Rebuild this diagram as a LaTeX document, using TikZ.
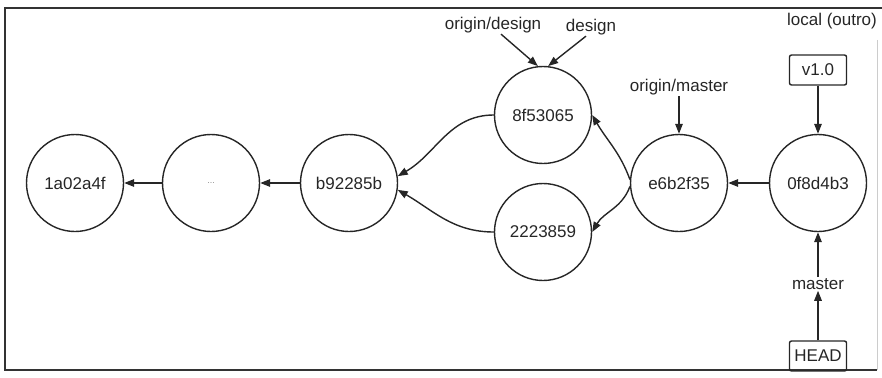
\documentclass[tikz,border=0pt]{standalone}
\usepackage{fontspec}
\setmainfont{Liberation Sans}
\usetikzlibrary{arrows.meta}

\tikzset{
  commit/.style={circle, draw=black!85, line width=1.4pt, minimum size=97pt, inner sep=0pt, text=black!85},
  tagbox/.style={rectangle, rounded corners=2pt, draw=black!85, line width=1.4pt, minimum width=57pt, minimum height=30pt, inner sep=2pt, text=black!85},
  reflabel/.style={inner sep=1pt, text=black!85},
  parent/.style={-{Triangle[length=10pt,width=7.5pt]}, draw=black!85, line width=1.4pt},
}

\begin{document}
\begin{tikzpicture}[x=1pt,y=-1pt,font=\fontsize{17}{20}\selectfont]
\useasboundingbox (0,0) rectangle (882,377);
% frame
\draw[line width=2pt, black!80] (882,8) -- (5,8) -- (5,370) -- (877,370);
\draw[line width=0.8pt, black!20] (877,40) -- (877,370);

% commits
\node[commit] (c1a0) at (75,183) {1a02a4f};
\node[commit] (cdot) at (211,183) {\fontsize{9}{10}\selectfont\color{black!45}...};
\node[commit] (cb92) at (349,183) {b92285b};
\node[commit] (c8f5) at (543,115) {8f53065};
\node[commit] (c222) at (543,232) {2223859};
\node[commit] (ce6b) at (679,183) {e6b2f35};
\node[commit] (c0f8) at (818,183) {0f8d4b3};

% refs
\node[reflabel] (rod) at (493,25) {origin/design};
\node[reflabel] (rd) at (591,27) {design};
\node[reflabel] (rom) at (679,87) {origin/master};
\node[reflabel] (rloc) at (832,21) {local (outro)};
\node[tagbox] (tv1) at (818,70) {v1.0};
\node[reflabel] (rmaster) at (818,284) {master};
\node[tagbox] (thead) at (818,356) {HEAD};

% history
\draw[parent] (cdot) -- (c1a0);
\draw[parent] (cb92) -- (cdot);
\draw[parent] (c0f8) -- (ce6b);
\draw[parent] (c8f5.west) to[out=180,in=30] (cb92.8);
\draw[parent] (c222.west) to[out=180,in=-30] (cb92.-8);
\draw[parent] (ce6b.176) to[out=110,in=-60] (c8f5.east);
\draw[parent] (ce6b.184) to[out=250,in=60] (c222.east);

% pointers
\draw[parent] ([xshift=8pt]rod.south) -- (c8f5.96);
\draw[parent] ([xshift=-5pt]rd.south) -- (c8f5.84);
\draw[parent] (rom.south) -- (ce6b.north);
\draw[parent] (tv1.south) -- (c0f8.north);
\draw[parent] (rmaster.north) -- (c0f8.south);
\draw[parent] (thead.north) -- (rmaster.south);
\end{tikzpicture}
\end{document}
